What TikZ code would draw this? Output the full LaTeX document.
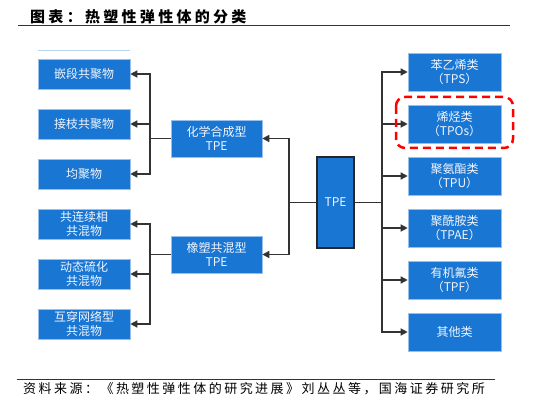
\documentclass[tikz,border=0pt]{standalone}
\usepackage{fontspec}
\setmainfont{Noto Sans CJK SC}
\usetikzlibrary{arrows.meta}
\definecolor{boxblue}{HTML}{1976D2}
\definecolor{linegray}{HTML}{333333}
\definecolor{textwhite}{HTML}{F2F6FF}
\tikzset{
  bluebox/.style={draw=boxblue!45, line width=0.6pt, fill=boxblue, text=textwhite,
    font=\fontsize{12}{14.5}\selectfont, align=center, inner sep=0pt},
  leftbox/.style={bluebox, minimum width=92pt, minimum height=30pt},
  midbox/.style={bluebox, minimum width=91pt, minimum height=37pt},
  rightbox/.style={bluebox, minimum width=93pt, minimum height=38pt},
  conn/.style={draw=linegray, line width=1.4pt},
  arr/.style={conn, -{Triangle[length=7pt,width=7pt]}},
  rule/.style={draw=linegray, line width=1pt},
}
\begin{document}
\begin{tikzpicture}[x=1pt,y=-1pt]
\useasboundingbox (0,0) rectangle (538,406);
\fill[white] (0,0) rectangle (538,406);

% title
\node[anchor=west, inner sep=0pt, font=\fontsize{15}{17}\bfseries\addfontfeature{LetterSpace=22}] (title) at (30,17) {图表：热塑性弹性体的分类};
\draw[rule] (18,26) -- (510,26);
\draw[boxblue!30, line width=0.5pt] (38,50) -- (130,50);

% left boxes
\node[leftbox] (l1) at (84,74) {嵌段共聚物};
\node[leftbox] (l2) at (84,124) {接枝共聚物};
\node[leftbox] (l3) at (84,174) {均聚物};
\node[leftbox] (l4) at (84,224) {共连续相\\共混物};
\node[leftbox] (l5) at (84,274) {动态硫化\\共混物};
\node[leftbox] (l6) at (84,324) {互穿网络型\\共混物};

% middle boxes
\node[midbox] (chem) at (216.5,138.5) {化学合成型\\TPE};
\node[midbox] (rub) at (216.5,254.5) {橡塑共混型\\TPE};

% central TPE
\node[bluebox, draw=black!85, line width=1.5pt, minimum width=37pt, minimum height=91pt,
  font=\fontsize{12}{14}\selectfont] (tpe) at (335.5,202.5) {TPE};

% right boxes
\node[rightbox] (r1) at (454.5,72) {苯乙烯类\\（TPS）};
\node[rightbox] (r2) at (454.5,124) {烯烃类\\（TPOs）};
\node[rightbox] (r3) at (454.5,176) {聚氨酯类\\（TPU）};
\node[rightbox] (r4) at (454.5,228) {聚酰胺类\\（TPAE）};
\node[rightbox] (r5) at (454.5,280) {有机氟类\\（TPF）};
\node[rightbox] (r6) at (454.5,332) {其他类};

% junctions
\coordinate (jl) at (289,202.5);
\coordinate (jr) at (382,202.5);
\coordinate (jc) at (150,138.5);
\coordinate (jb) at (150,254.5);

\draw[conn] (tpe.west) -- (jl);
\draw[arr] (jl) |- (chem.east);
\draw[arr] (jl) |- (rub.east);

\draw[conn] (chem.west) -- (jc);
\draw[arr] (jc) |- (l1.east);
\draw[arr] (jc) |- (l2.east);
\draw[arr] (jc) |- (l3.east);

\draw[conn] (rub.west) -- (jb);
\draw[arr] (jb) |- (l4.east);
\draw[arr] (jb) |- (l5.east);
\draw[arr] (jb) |- (l6.east);

\draw[conn] (tpe.east) -- (jr);
\draw[arr] (jr) |- (r1.west);
\draw[arr] (jr) |- (r2.west);
\draw[arr] (jr) |- (r3.west);
\draw[arr] (jr) |- (r4.west);
\draw[arr] (jr) |- (r5.west);
\draw[arr] (jr) |- (r6.west);

% highlight
\draw[red, line width=2.5pt, dash pattern=on 8pt off 5pt, rounded corners=9pt] (396,97) rectangle (513,148);

% footer
\draw[rule] (17,379) -- (495,379);
\node[anchor=west, inner sep=0pt, font=\fontsize{13}{15}\selectfont\addfontfeature{LetterSpace=19}] (src) at (23,389) {资料来源：《热塑性弹性体的研究进展》刘丛丛等，国海证券研究所};
\end{tikzpicture}
\end{document}
